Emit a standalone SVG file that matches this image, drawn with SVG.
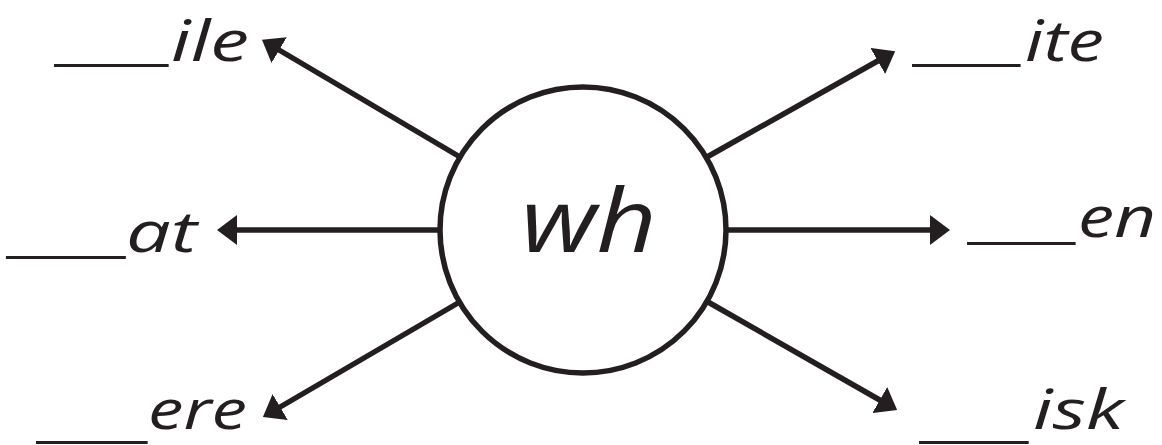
<svg xmlns="http://www.w3.org/2000/svg" width="1162" height="445" viewBox="0 0 1162 445">
<style>
.c{fill:#fff;stroke:#231f20;stroke-width:5.5}
.ln{stroke:#231f20;stroke-width:5.5;fill:none;marker-end:url(#ah)}
.lbl{font-family:"Open Sans","Noto Sans",sans-serif;font-style:italic;font-size:57px;fill:#231f20}
.lo{font-size:55px}
.us{font-family:"Liberation Sans",sans-serif;font-style:normal;font-size:48px}
.hub{font-family:"Open Sans","Noto Sans",sans-serif;font-style:italic;font-size:88px;fill:#231f20}
</style>
<defs>
<marker id="ah" viewBox="0 0 20 30" refX="6" refY="15" markerWidth="20" markerHeight="30" markerUnits="userSpaceOnUse" orient="auto">
<path d="M0,0 L20,15 L0,30 z" fill="#231f20"/>
</marker>
</defs>
<rect width="1162" height="445" fill="#fff"/>
<g id="connectors">
<line class="ln" x1="460" y1="157" x2="274" y2="47"/>
<line class="ln" x1="707" y1="157" x2="883" y2="58"/>
<line class="ln" x1="440" y1="230" x2="231" y2="230"/>
<line class="ln" x1="726" y1="230" x2="936" y2="230"/>
<line class="ln" x1="458" y1="303" x2="275" y2="410"/>
<line class="ln" x1="708" y1="302" x2="885" y2="403"/>
</g>
<g id="hub">
<circle class="c" cx="583" cy="230" r="143"/>
<text class="hub" x="521" y="252" textLength="136" lengthAdjust="spacingAndGlyphs">wh</text>
</g>
<g id="n-ile"><text class="lbl"><tspan class="us" x="55" y="57" textLength="113" lengthAdjust="spacingAndGlyphs">___</tspan><tspan x="171" y="61" textLength="78" lengthAdjust="spacingAndGlyphs">ile</tspan></text></g>
<g id="n-ite"><text class="lbl"><tspan class="us" x="913" y="57" textLength="107" lengthAdjust="spacingAndGlyphs">___</tspan><tspan x="1025" y="61" textLength="79" lengthAdjust="spacingAndGlyphs">ite</tspan></text></g>
<g id="n-at"><text class="lbl"><tspan class="us" x="7" y="249" textLength="118" lengthAdjust="spacingAndGlyphs">___</tspan><tspan x="126" y="252" textLength="71" lengthAdjust="spacingAndGlyphs">at</tspan></text></g>
<g id="n-en"><text class="lbl"><tspan class="us" x="968" y="235" textLength="107" lengthAdjust="spacingAndGlyphs">___</tspan><tspan x="1078" y="237" textLength="78" lengthAdjust="spacingAndGlyphs">en</tspan></text></g>
<g id="n-ere"><text class="lbl lo"><tspan class="us" x="37" y="434" textLength="110" lengthAdjust="spacingAndGlyphs">___</tspan><tspan x="148" y="428.5" textLength="99" lengthAdjust="spacingAndGlyphs">ere</tspan></text></g>
<g id="n-isk"><text class="lbl lo"><tspan class="us" x="920" y="434" textLength="108" lengthAdjust="spacingAndGlyphs">___</tspan><tspan x="1033" y="428.5" textLength="91" lengthAdjust="spacingAndGlyphs">isk</tspan></text></g>
</svg>
